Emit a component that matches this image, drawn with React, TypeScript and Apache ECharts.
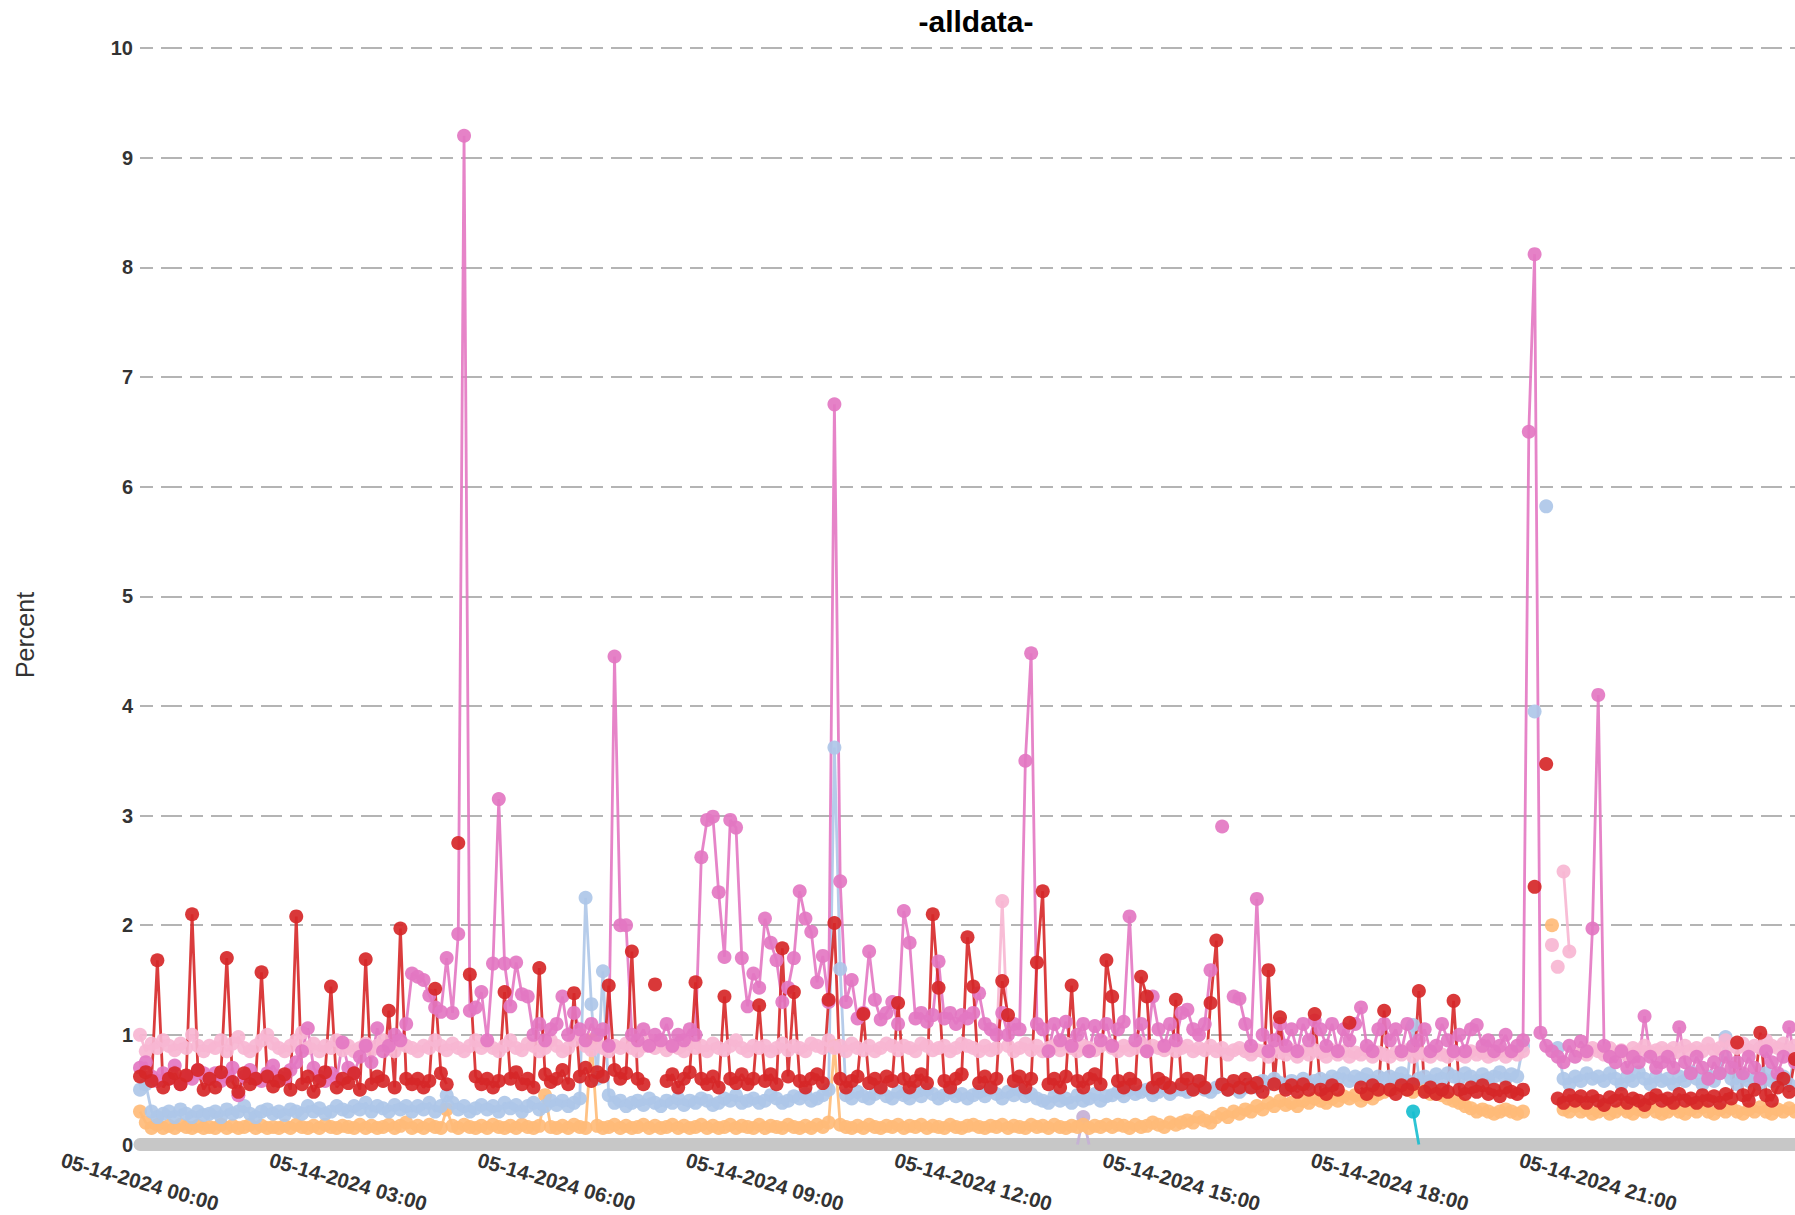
import React, { useEffect, useRef } from 'react';
import * as echarts from 'echarts';

const TITLE = '-alldata-';
const Y_NAME = 'Percent';
const DATE_LABEL = '05-14-2024';
const STEP_MINUTES = 5;
const POINT_COUNT = 287; // 00:00 .. 23:50
const Y_MIN = 0;
const Y_MAX = 10;
const Y_STEP = 1;
const X_LABEL_EVERY = 36; // every 3 hours

const pad = (n: number) => String(n).padStart(2, '0');
const times: string[] = Array.from({ length: POINT_COUNT }, (_, i) => {
  const m = i * STEP_MINUTES;
  return `${pad(Math.floor(m / 60))}:${pad(m % 60)}`;
});

// red  #d62728
const redValues = [
  0.62, 0.66, 0.58, 1.68, 0.52, 0.6, 0.65, 0.55, 0.63, 2.1, 0.68, 0.5,
  0.6, 0.52, 0.66, 1.7, 0.57, 0.48, 0.65, 0.55, 0.6, 1.57, 0.62, 0.53,
  0.58, 0.64, 0.5, 2.08, 0.55, 0.62, 0.48, 0.58, 0.66, 1.44, 0.52, 0.6,
  0.56, 0.65, 0.5, 1.69, 0.55, 0.62, 0.58, 1.22, 0.52, 1.97, 0.6, 0.55,
  0.6, 0.52, 0.58, 1.42, 0.65, 0.55, null, 2.75, null, 1.55, 0.62, 0.55,
  0.6, 0.52, 0.58, 1.39, 0.6, 0.66, 0.55, 0.6, 0.52, 1.61, 0.64, 0.57,
  0.6, 0.68, 0.55, 1.38, 0.62, 0.7, 0.58, 0.66, 0.62, 1.45, 0.68, 0.6,
  0.65, 1.76, 0.6, 0.55, null, 1.46, null, 0.58, 0.64, 0.52, 0.6, 0.66,
  1.48, 0.6, 0.55, 0.62, 0.52, 1.35, 0.6, 0.56, 0.64, 0.55, 0.6, 1.27,
  0.58, 0.64, 0.55, 1.79, 0.62, 1.39, 0.58, 0.52, 0.6, 0.64, 0.56, 1.32,
  2.02, 0.6, 0.52, 0.58, 0.62, 1.19, 0.56, 0.6, 0.52, 0.62, 0.58, 1.29,
  0.6, 0.52, 0.58, 0.64, 0.56, 2.1, 1.43, 0.58, 0.52, 0.6, 0.64, 1.89,
  1.44, 0.56, 0.62, 0.52, 0.6, 1.49, 1.18, 0.58, 0.62, 0.52, 0.6, 1.66,
  2.31, 0.55, 0.6, 0.52, 0.62, 1.45, 0.58, 0.52, 0.6, 0.64, 0.55, 1.68,
  1.35, 0.58, 0.52, 0.6, 0.55, 1.53, 1.35, 0.52, 0.6, 0.56, 0.52, 1.32,
  0.55, 0.6, 0.5, 0.58, 0.52, 1.29, 1.86, 0.55, 0.5, 0.58, 0.52, 0.6,
  0.52, 0.56, 0.48, 1.59, 0.55, 1.16, 0.5, 0.54, 0.48, 0.55, 0.5, 1.19,
  0.5, 0.46, 0.54, 0.5, null, 1.11, null, 0.52, 0.46, 0.54, 0.5, 1.22,
  0.5, 0.46, 0.54, 0.5, 0.55, 1.4, 0.48, 0.52, 0.46, 0.5, 0.48, 1.31,
  0.5, 0.46, 0.52, 0.48, 0.54, 0.46, 0.5, 0.44, 0.52, 0.48, 0.46, 0.5,
  null, 2.35, null, 3.47, null, 0.42, 0.38, 0.45, 0.4, 0.44, 0.38, 0.44,
  0.4, 0.36, 0.43, 0.4, 0.46, 0.38, 0.42, 0.4, 0.36, 0.42, 0.45, 0.4,
  0.42, 0.38, 0.46, 0.4, 0.42, 0.38, 0.45, 0.4, 0.44, 0.38, 0.46, 0.42,
  0.93, 0.45, 0.4, 0.5, 1.02, 0.45, 0.4, 0.52, 0.6, 0.48, 0.78,
];

// pink #e377c2
const pinkValues = [
  0.7, 0.75, 0.62, 0.58, 0.65, 0.6, 0.72, 0.55, 0.62, 0.6, 0.68, 0.65,
  0.6, 0.65, 0.58, 0.62, 0.7, 0.45, 0.62, 0.68, 0.6, 0.58, 0.65, 0.72,
  0.62, 0.6, 0.68, 0.75, 0.85, 1.06, 0.7, 0.62, 0.58, 0.65, 0.6, 0.93,
  0.7, 0.65, 0.8, 0.9, 0.75, 1.06, 0.85, 0.9, 1.0, 0.95, 1.1, 1.56,
  1.53, 1.5, 1.36, 1.25, 1.21, 1.7, 1.2, 1.92, 9.2, 1.22, 1.25, 1.39,
  0.95, 1.65, 3.15, 1.65, 1.26, 1.66, 1.37, 1.35, 1.0, 1.1, 0.95, 1.05,
  1.1, 1.35, 1.0, 1.2, 1.05, 0.95, 1.1, 1.0, 1.05, 0.9, 4.45, 2.0,
  2.0, 1.0, 0.95, 1.05, 0.9, 1.0, 0.95, 1.1, 0.9, 1.0, 0.95, 1.05,
  1.0, 2.62, 2.96, 2.99, 2.3, 1.71, 2.96, 2.89, 1.7, 1.26, 1.56, 1.43,
  2.06, 1.84, 1.68, 1.3, 1.43, 1.7, 2.31, 2.06, 1.94, 1.48, 1.72, 1.3,
  6.75, 2.4, 1.3, 1.5, 1.15, 1.2, 1.76, 1.32, 1.14, 1.2, 1.3, 1.1,
  2.13, 1.84, 1.15, 1.2, 1.12, 1.18, 1.67, 1.15, 1.2, 1.1, 1.18, 1.15,
  1.2, 1.38, 1.1, 1.05, 1.0, 1.2, 1.0, 1.1, 1.05, 3.5, 4.48, 1.1,
  1.05, 0.85, 1.1, 0.95, 1.12, 0.9, 1.0, 1.1, 0.85, 1.08, 0.95, 1.1,
  0.9, 1.05, 1.12, 2.08, 0.95, 1.1, 0.85, 1.35, 1.05, 0.9, 1.1, 0.95,
  1.2, 1.23, 1.05, 1.0, 1.1, 1.59, null, 2.9, null, 1.35, 1.33, 1.1,
  0.9, 2.24, 1.0, 0.85, 0.95, 1.1, 0.9, 1.05, 0.85, 1.1, 0.95, 1.13,
  1.05, 0.9, 1.1, 0.85, 1.05, 0.95, 1.1, 1.25, 0.9, 0.85, 1.05, 1.1,
  0.95, 1.05, 0.85, 1.1, 0.9, 0.95, 1.05, 0.85, 0.9, 1.1, 0.95, 0.85,
  1.0, 0.85, 1.05, 1.09, 0.9, 0.95, 0.85, 0.9, 1.0, 0.85, 0.9, 0.95,
  6.5, 8.12, 1.02, 0.9, 0.85, 0.8, 0.75, 0.9, 0.8, 0.94, 0.85, 1.97,
  4.1, 0.9, 0.8, 0.75, 0.85, 0.7, 0.8, 0.75, 1.17, 0.8, 0.7, 0.75,
  0.8, 0.7, 1.07, 0.75, 0.65, 0.8, 0.7, 0.6, 0.75, 0.65, 0.8, 0.7,
  0.75, 0.65, 0.8, 0.7, 0.6, 0.85, 0.75, 0.65, 0.8, 1.07, 0.75,
];

// light pink #f7b6d2
const lightPinkValues = [
  1.0, 0.85, 0.92, 0.88, 0.95, 0.9, 0.86, 0.92, 0.88, 1.0, 0.9, 0.85,
  0.9, 0.88, 0.95, 0.85, 0.92, 0.98, 0.88, 0.85, 0.9, 0.95, 1.0, 0.92,
  0.88, 0.85, 0.9, 0.95, 1.02, 0.88, 0.92, 0.85, 0.9, 0.88, 0.95, 0.86,
  0.9, 0.85, 0.88, 0.92, 0.86, 0.9, 0.95, 0.88, 0.85, 0.92, 0.9, 0.88,
  0.85, 0.9, 0.88, 0.95, 0.9, 0.86, 0.92, 0.88, 0.85, 0.9, 0.95, 0.88,
  0.92, 0.88, 0.85, 0.9, 0.95, 0.88, 0.86, 0.92, 0.9, 0.85, 0.88, 0.95,
  0.9, 0.85, 0.88, 0.95, 1.0, 0.9, 0.86, 0.92, 0.88, 0.85, 0.9, 0.88,
  0.92, 0.88, 0.85, 0.9, 0.95, 0.88, 0.92, 0.86, 0.9, 0.88, 0.85, 0.92,
  0.88, 0.9, 0.85, 0.92, 0.88, 0.86, 0.9, 0.95, 0.88, 0.85, 0.9, 0.88,
  0.9, 0.85, 0.88, 0.92, 0.86, 0.9, 0.88, 0.85, 0.92, 0.9, 0.88, 0.95,
  0.88, 0.9, 0.85, 0.92, 0.88, 0.86, 0.9, 0.85, 0.88, 0.92, 0.9, 0.86,
  0.9, 0.88, 0.85, 0.92, 0.9, 0.86, 0.88, 0.9, 0.85, 0.88, 0.92, 0.9,
  0.88, 0.85, 0.9, 0.86, 0.88, 2.22, 0.9, 0.85, 0.88, 0.92, 0.86, 0.9,
  0.85, 0.88, 0.9, 0.86, 0.92, 0.88, 0.85, 0.9, 0.88, 0.86, 0.9, 0.92,
  0.88, 0.85, 0.9, 0.86, 0.88, 0.92, 0.85, 0.9, 0.88, 0.86, 0.9, 0.85,
  0.88, 0.9, 0.85, 0.88, 0.86, 0.9, 0.85, 0.88, 0.82, 0.86, 0.88, 0.85,
  0.82, 0.86, 0.85, 0.8, 0.88, 0.84, 0.82, 0.86, 0.8, 0.85, 0.82, 0.86,
  0.84, 0.8, 0.86, 0.82, 0.85, 0.8, 0.84, 0.82, 0.86, 0.8, 0.84, 0.82,
  0.8, 0.84, 0.82, 0.86, 0.8, 0.84, 0.82, 0.8, 0.85, 0.82, 0.8, 0.84,
  0.82, 0.8, 0.85, 0.82, 0.84, 0.8, 0.82, 0.85, 0.8, 0.84, 0.82, 0.85,
  null, null, null, null, 1.82, null, 2.49, 1.76, null, 0.85, 0.82, 0.88,
  0.85, 0.82, 0.88, 0.84, 0.86, 0.82, 0.88, 0.85, 0.9, 0.84, 0.86, 0.88,
  0.85, 0.88, 0.84, 0.9, 0.86, 0.88, 0.85, 0.92, 0.86, 0.88, 0.95, 0.9,
  0.88, 0.92, 0.86, 0.9, 0.88, 0.95, 0.9, 0.88, 0.92, 0.86, 0.9,
];

// light blue #aec7e8
const lightBlueValues = [
  0.5, 0.55, 0.3, 0.25, 0.28, 0.3, 0.25, 0.32, 0.28, 0.25, 0.3, 0.27,
  0.28, 0.3, 0.25, 0.32, 0.28, 0.3, 0.35, 0.28, 0.25, 0.3, 0.32, 0.28,
  0.3, 0.27, 0.32, 0.3, 0.28, 0.35, 0.3, 0.33, 0.28, 0.3, 0.35, 0.32,
  0.3, 0.35, 0.32, 0.38, 0.3, 0.35, 0.33, 0.3, 0.36, 0.32, 0.35, 0.3,
  0.35, 0.32, 0.38, 0.3, 0.35, 0.45, 0.38, 0.32, 0.35, 0.3, 0.33, 0.36,
  0.32, 0.35, 0.3, 0.38, 0.33, 0.36, 0.3, 0.35, 0.38, 0.32, 0.35, 0.4,
  0.36, 0.4, 0.35, 0.38, 0.42, 2.25, 1.28, 0.6, 1.58, 0.45, 0.38, 0.4,
  0.35, 0.38, 0.4, 0.36, 0.42, 0.38, 0.35, 0.4, 0.38, 0.42, 0.36, 0.4,
  0.38, 0.42, 0.4, 0.36, 0.38, 0.42, 0.4, 0.45, 0.38, 0.4, 0.42, 0.38,
  0.4, 0.45, 0.42, 0.38, 0.4, 0.44, 0.42, 0.46, 0.4, 0.42, 0.45, 0.5,
  3.62, 1.6, 0.45, 0.42, 0.48, 0.44, 0.42, 0.46, 0.5, 0.44, 0.42, 0.48,
  0.45, 0.42, 0.48, 0.44, 0.5, 0.46, 0.42, 0.45, 0.48, 0.44, 0.46, 0.42,
  0.45, 0.48, 0.44, 0.5, 0.46, 0.42, 0.48, 0.45, 0.5, 0.44, 0.46, 0.42,
  0.4, 0.38, 0.44, 0.4, 0.42, 0.38, 0.45, 0.4, 0.42, 0.46, 0.4, 0.44,
  0.45, 0.48, 0.44, 0.5, 0.46, 0.48, 0.5, 0.45, 0.48, 0.52, 0.46, 0.5,
  0.5, 0.48, 0.52, 0.55, 0.5, 0.48, 0.52, 0.55, 0.5, 0.53, 0.48, 0.52,
  0.55, 0.52, 0.58, 0.55, 0.6, 0.56, 0.52, 0.58, 0.55, 0.6, 0.56, 0.58,
  0.6, 0.58, 0.62, 0.6, 0.65, 0.58, 0.62, 0.6, 0.64, 0.58, 0.62, 0.6,
  0.62, 0.6, 0.65, 0.58, 1.09, 0.6, 0.62, 0.58, 0.64, 0.6, 0.65, 0.62,
  0.6, 0.65, 0.62, 0.58, 0.64, 0.6, 0.62, 0.66, 0.6, 0.64, 0.62, 0.9,
  null, 3.95, null, 5.82, null, 0.88, 0.6, 0.55, 0.62, 0.58, 0.65, 0.6,
  0.62, 0.58, 0.65, 0.6, 0.55, 0.62, 0.58, 0.66, 0.6, 0.55, 0.62, 0.58,
  0.6, 0.55, 0.62, 0.58, 0.66, 0.6, 0.55, 0.62, 0.58, 0.65, 0.98, 0.6,
  0.55, 0.62, 0.58, 0.6, 0.55, 0.65, 0.58, 0.6, 0.62, 0.55, 0.85,
];

// light orange #ffbb78
const orangeValues = [
  0.3, 0.2, 0.15, 0.18, 0.15, 0.17, 0.15, 0.18, 0.16, 0.15, 0.17, 0.15,
  0.16, 0.15, 0.18, 0.15, 0.17, 0.15, 0.16, 0.18, 0.15, 0.17, 0.15, 0.16,
  0.15, 0.17, 0.15, 0.18, 0.16, 0.15, 0.17, 0.15, 0.18, 0.16, 0.15, 0.17,
  0.16, 0.15, 0.18, 0.15, 0.17, 0.15, 0.16, 0.18, 0.15, 0.17, 0.2, 0.15,
  0.17, 0.15, 0.18, 0.16, 0.15, 0.32, 0.17, 0.15, 0.18, 0.16, 0.15, 0.17,
  0.15, 0.18, 0.16, 0.15, 0.17, 0.15, 0.18, 0.16, 0.15, 0.17, 0.45, 0.16,
  0.15, 0.17, 0.15, 0.18, 0.16, 0.15, 0.95, 0.17, 0.15, 0.16, 0.18, 0.15,
  0.17, 0.15, 0.16, 0.18, 0.15, 0.17, 0.15, 0.16, 0.18, 0.15, 0.17, 0.15,
  0.16, 0.18, 0.15, 0.17, 0.15, 0.16, 0.18, 0.15, 0.17, 0.16, 0.15, 0.18,
  0.15, 0.17, 0.16, 0.15, 0.18, 0.16, 0.15, 0.17, 0.15, 0.18, 0.16, 0.2,
  0.9, 0.18, 0.16, 0.15, 0.17, 0.15, 0.18, 0.16, 0.15, 0.17, 0.16, 0.18,
  0.15, 0.17, 0.16, 0.18, 0.15, 0.17, 0.16, 0.15, 0.18, 0.16, 0.15, 0.17,
  0.18, 0.16, 0.15, 0.17, 0.16, 0.18, 0.15, 0.17, 0.16, 0.15, 0.18, 0.16,
  0.17, 0.15, 0.18, 0.16, 0.15, 0.17, 0.16, 0.18, 0.15, 0.17, 0.16, 0.18,
  0.16, 0.18, 0.17, 0.15, 0.18, 0.16, 0.17, 0.2, 0.18, 0.16, 0.2, 0.18,
  0.2, 0.22, 0.2, 0.25, 0.22, 0.2, 0.25, 0.28, 0.25, 0.3, 0.28, 0.32,
  0.3, 0.35, 0.32, 0.38, 0.35, 0.4, 0.36, 0.38, 0.35, 0.4, 0.38, 0.42,
  0.4, 0.38, 0.42, 0.4, 0.44, 0.42, 0.45, 0.4, 0.44, 0.42, 0.46, 0.48,
  0.5, 0.52, 0.55, 0.5, 0.48, 0.52, 0.5, 0.46, 0.48, 0.45, 0.42, 0.4,
  0.38, 0.35, 0.33, 0.3, 0.32, 0.3, 0.28, 0.3, 0.32, 0.3, 0.28, 0.3,
  null, null, null, null, 2.0, null, 0.32, 0.3, 0.35, 0.3, 0.32, 0.28,
  0.3, 0.32, 0.28, 0.3, 0.33, 0.3, 0.28, 0.32, 0.3, 0.34, 0.3, 0.28,
  0.3, 0.33, 0.3, 0.28, 0.32, 0.3, 0.34, 0.3, 0.28, 0.32, 0.3, 0.33,
  0.3, 0.28, 0.32, 0.3, 0.34, 0.3, 0.28, 0.32, 0.3, 0.33, 0.3,
];

// sparse series: [time, value]; points at 0 sit inside the grey band and are not marked
const tealPoints: [string, number][] = [['18:20', 0.3], ['18:25', 0]];
const purplePoints: [string, number][] = [['13:30', 0], ['13:35', 0.25], ['13:40', 0]];
const lightPinkExtraPoints: [string, number][] = [['20:25', 1.62]];

const COLORS = {
  red: '#d62728',
  pink: '#e377c2',
  lightPink: '#f7b6d2',
  lightBlue: '#aec7e8',
  orange: '#ffbb78',
  teal: '#17becf',
  purple: '#c5b0d5',
  band: '#c7c7c7',
};

const FONT = '"Liberation Sans", Arial, sans-serif';
const SYMBOL_SIZE = 14;

function lineSeries(name: string, color: string, data: any[]) {
  return {
    name,
    type: 'line',
    data,
    symbol: 'circle',
    symbolSize: SYMBOL_SIZE,
    showSymbol: true,
    showAllSymbol: true,
    connectNulls: false,
    lineStyle: { color, width: 2.8, opacity: 0.9 },
    itemStyle: { color, opacity: 0.92 },
    emphasis: { disabled: true },
  };
}

const sparse = (pts: [string, number][]) =>
  pts.map(([t, v]) => (v === 0 ? { value: [t, v], symbol: 'none' } : { value: [t, v] }));

export default function App() {
  const ref = useRef<HTMLDivElement>(null);
  useEffect(() => {
    if (!ref.current) return;
    const chart = echarts.init(ref.current, undefined, { renderer: 'svg' });
    chart.setOption({
      animation: false,
      backgroundColor: '#ffffff',
      textStyle: { fontFamily: FONT },
      title: {
        text: TITLE,
        left: 971,
        top: 1,
        textAlign: 'center',
        textStyle: { fontSize: 30, fontWeight: 'bold', color: '#000', fontFamily: FONT },
      },
      grid: { left: 140, right: 0, top: 48, bottom: 70.5, containLabel: false },
      xAxis: {
        type: 'category',
        data: times,
        boundaryGap: false,
        z: 3,
        axisLine: { show: true, lineStyle: { color: COLORS.band, width: 13 } },
        axisTick: { show: false },
        splitLine: { show: false },
        axisLabel: {
          interval: X_LABEL_EVERY - 1,
          rotate: -16,
          align: 'center',
          verticalAlign: 'middle',
          margin: 37,
          fontSize: 20.5,
          fontWeight: 'bold',
          color: '#333',
          fontFamily: FONT,
          formatter: (v: string) => `${DATE_LABEL} ${v}`,
        },
      },
      yAxis: {
        type: 'value',
        min: Y_MIN,
        max: Y_MAX,
        interval: Y_STEP,
        axisLine: { show: false },
        axisTick: { show: false },
        axisLabel: { fontSize: 20, fontWeight: 'bold', color: '#333', margin: 7, fontFamily: FONT },
        splitLine: { lineStyle: { color: '#b4b4b4', width: 2, type: [13, 8, 21, 8] } },
      },
      graphic: [
        {
          type: 'text',
          x: 25,
          y: 635,
          rotation: Math.PI / 2,
          style: {
            text: Y_NAME,
            fill: '#333',
            font: `25px ${FONT}`,
            textAlign: 'center',
            textVerticalAlign: 'middle',
          },
        },
      ],
      series: [
        lineSeries('teal', COLORS.teal, sparse(tealPoints)),
        lineSeries('purple', COLORS.purple, sparse(purplePoints)),
        lineSeries('orange', COLORS.orange, orangeValues),
        lineSeries('lightBlue', COLORS.lightBlue, lightBlueValues),
        lineSeries('lightPink', COLORS.lightPink, lightPinkValues),
        {
          name: 'lightPinkExtra',
          type: 'scatter',
          data: lightPinkExtraPoints,
          symbolSize: SYMBOL_SIZE,
          itemStyle: { color: COLORS.lightPink, opacity: 0.92 },
        },
        lineSeries('pink', COLORS.pink, pinkValues),
        lineSeries('red', COLORS.red, redValues),
      ],
    });
    return () => chart.dispose();
  }, []);
  return (
    <div
      ref={ref}
      style={{ position: 'absolute', left: 0, top: 0, width: 1795, height: 1215 }}
    />
  );
}
